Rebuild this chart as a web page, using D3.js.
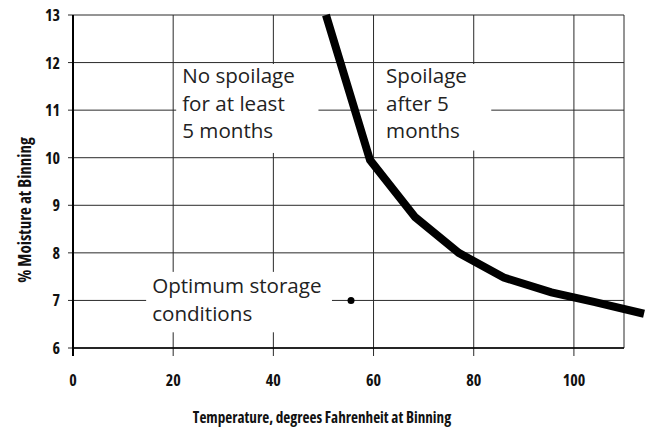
<!DOCTYPE html>
<html>
  <head>
    <style>
      body {
        margin: 0;
        background: #fff;
        font-family: "Open Sans", sans-serif;
      }
      .grid line {
        stroke: #2a2a2a;
        stroke-width: 1px;
      }
      .tick-label {
        font-weight: bold;
        font-size: 16px;
        font-stretch: 85%;
        fill: #111;
      }
      .axis-title {
        font-weight: bold;
        font-size: 15.2px;
        font-stretch: 75%;
        fill: #111;
      }
      .axis-title.y {
        font-size: 17px;
        font-stretch: 75%;
      }
      .note {
        font-size: 20.6px;
        fill: #222;
      }
      .curve {
        fill: none;
        stroke: #000;
        stroke-width: 8px;
      }
    </style>
  </head>
  <body>
    <script src="https://d3js.org/d3.v7.min.js"></script>
    <script>
    // spoilage boundary
      var temps = [50.5, 59.3, 68.3, 77, 86, 95.5, 104, 114];
      var moist = [13, 9.95, 8.75, 8.0, 7.48, 7.17, 6.97, 6.72];
    // optimum point
      var optTemp = [55.5];
      var optMoist = [7];
    // axes
      var xTicks = [0, 20, 40, 60, 80, 100];
      var yTicks = [6, 7, 8, 9, 10, 11, 12, 13];
      var xTitle = "Temperature, degrees Fahrenheit at Binning";
      var yTitle = "% Moisture at Binning";
    // notes
      var noteSafe = ["No spoilage", "for at least", "5 months"];
      var noteSpoil = ["Spoilage", "after 5", "months"];
      var noteOpt = ["Optimum storage", "conditions"];

      var width = 647, height = 429;
      var x_scale = d3.scaleLinear().domain([0, 110]).range([73, 624]);
      var y_scale = d3.scaleLinear().domain([6, 13]).range([348, 15]);

      var svg = d3.select("body").append("svg")
          .attr("width", width)
          .attr("height", height);

      //grid with little ticks sticking out left and below
      var grid = svg.append("g").attr("class", "grid");
      grid.selectAll(".h").data(yTicks).enter().append("line")
          .attr("x1", x_scale(0) - 5)
          .attr("x2", x_scale(110))
          .attr("y1", d => y_scale(d))
          .attr("y2", d => y_scale(d));
      grid.selectAll(".v").data(xTicks.concat([110])).enter().append("line")
          .attr("x1", d => x_scale(d))
          .attr("x2", d => x_scale(d))
          .attr("y1", y_scale(13))
          .attr("y2", d => d == 110 ? y_scale(6) : y_scale(6) + 8);
      // heavier left + bottom axis
      svg.append("line")
          .attr("x1", x_scale(0)).attr("x2", x_scale(0))
          .attr("y1", y_scale(13)).attr("y2", y_scale(6) + 8)
          .attr("stroke", "#000").attr("stroke-width", 2);
      svg.append("line")
          .attr("x1", x_scale(0)).attr("x2", x_scale(110))
          .attr("y1", y_scale(6)).attr("y2", y_scale(6))
          .attr("stroke", "#000").attr("stroke-width", 1.6);

      //tick labels
      svg.selectAll(".xl").data(xTicks).enter().append("text")
          .attr("class", "tick-label")
          .attr("x", d => x_scale(d))
          .attr("y", 386)
          .attr("text-anchor", "middle")
          .text(d => d);
      svg.selectAll(".yl").data(yTicks).enter().append("text")
          .attr("class", "tick-label")
          .attr("x", 60)
          .attr("y", d => y_scale(d) + 6)
          .attr("text-anchor", "end")
          .text(d => d);

      svg.append("text")
          .attr("class", "axis-title")
          .attr("x", 322)
          .attr("y", 423)
          .attr("text-anchor", "middle")
          .text(xTitle);
      svg.append("text")
          .attr("class", "axis-title y")
          .attr("transform", "translate(31," + 210 + ") rotate(-90)")
          .attr("text-anchor", "middle")
          .text(yTitle);

      //white boxes behind the notes, then the text
      function note(lines, x0, x1, y0, y1, tx, ty) {
        svg.append("rect")
            .attr("x", x_scale(x0))
            .attr("y", y_scale(y0))
            .attr("width", x_scale(x1) - x_scale(x0))
            .attr("height", y_scale(y1) - y_scale(y0))
            .attr("fill", "#fff");
        svg.append("text")
            .attr("class", "note")
            .selectAll("tspan").data(lines).enter().append("tspan")
            .attr("x", x_scale(tx))
            .attr("y", (d, i) => y_scale(ty) + i * 27.5)
            .text(d => d);
      }
      note(noteSafe, 20.6, 49, 11.97, 10.1, 21.8, 11.57);
      note(noteSpoil, 60.7, 83.5, 11.97, 10.15, 62.5, 11.57);
      note(noteOpt, 14.6, 51.7, 7.6, 6.33, 15.8, 7.15);

      //the boundary line
      var line_generator = d3.line()
          .x(d => x_scale(d[0]))
          .y(d => y_scale(d[1]));
      svg.append("path")
          .datum(d3.zip(temps, moist))
          .attr("class", "curve")
          .attr("d", line_generator);

      svg.selectAll(".opt").data(d3.zip(optTemp, optMoist)).enter().append("circle")
          .attr("cx", d => x_scale(d[0]))
          .attr("cy", d => y_scale(d[1]))
          .attr("r", 3.5)
          .attr("fill", "#000");
    </script>
  </body>
</html>
